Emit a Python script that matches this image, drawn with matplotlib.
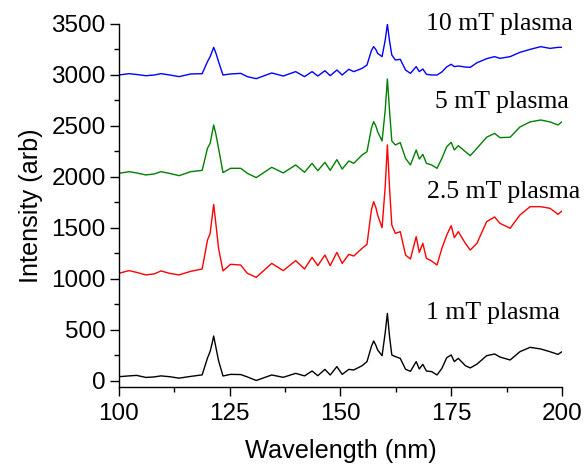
import matplotlib
matplotlib.use("Agg")
import matplotlib.pyplot as plt
from matplotlib.ticker import MultipleLocator

# Wavelength sample points (nm)
wavelength = [100, 102.3, 104, 106.1, 108, 109.5, 111.5, 113.6, 116.2, 118.8,
              120, 120.6, 121.0, 121.4, 121.9, 122.5, 123.5, 125.2, 127.5, 129,
              131, 134.5, 137.1, 139.9, 141.9, 143.6, 144.9, 146.5, 147.7, 149.2,
              150.4, 151.9, 153, 154.9, 156, 157.0, 157.5, 158.0, 158.4, 159.4,
              160.1, 160.6, 161.1, 161.6, 162.4, 163.5, 164.7, 165.8, 167.1, 167.8,
              168.6, 169.4, 170.6, 171.8, 172.9, 174, 175, 175.7, 176.6, 178.2,
              179.3, 180.8, 183, 184.8, 186, 188.3, 190.5, 192.8, 195.2, 197.3,
              199.1, 200]

# Spectra (arb. units, stacked with offsets)
int_1mT = [42, 50, 55, 35, 40, 50, 42, 28, 45, 60,
           225, 290, 360, 441, 330, 200, 49, 65, 63, 40,
           5, 59, 36, 75, 50, 98, 52, 114, 59, 141,
           65, 114, 108, 150, 190, 340, 392, 350, 304, 248,
           470, 663, 430, 255, 239, 222, 115, 95, 190, 118,
           163, 98, 92, 59, 124, 229, 255, 190, 222, 150,
           128, 165, 248, 265, 235, 206, 287, 330, 314, 287,
           261, 287]

int_2p5mT = [1056, 1082, 1065, 1040, 1050, 1079, 1055, 1040, 1075, 1098,
             1380, 1447, 1590, 1732, 1540, 1301, 1079, 1144, 1137, 1056,
             1016, 1153, 1082, 1180, 1098, 1212, 1131, 1235, 1131, 1261,
             1153, 1242, 1225, 1301, 1340, 1680, 1758, 1700, 1627, 1503,
             1900, 2314, 1880, 1529, 1447, 1464, 1235, 1196, 1415, 1261,
             1350, 1203, 1176, 1137, 1301, 1431, 1523, 1405, 1464, 1349,
             1284, 1349, 1562, 1608, 1546, 1497, 1627, 1709, 1709, 1693,
             1634, 1667]

int_5mT = [2036, 2052, 2040, 2020, 2030, 2052, 2035, 2013, 2052, 2065,
           2281, 2330, 2420, 2510, 2420, 2281, 2043, 2085, 2085, 2036,
           1994, 2095, 2040, 2118, 2046, 2134, 2062, 2144, 2065, 2170,
           2078, 2157, 2134, 2216, 2248, 2480, 2542, 2500, 2444, 2353,
           2650, 2961, 2640, 2353, 2314, 2337, 2183, 2118, 2265, 2176,
           2222, 2134, 2118, 2085, 2183, 2297, 2340, 2265, 2307, 2248,
           2209, 2281, 2390, 2428, 2386, 2390, 2490, 2540, 2559, 2540,
           2510, 2542]

int_10mT = [3000, 3013, 3005, 2993, 3000, 3013, 3000, 2984, 3010, 3013,
            3131, 3180, 3225, 3271, 3215, 3131, 3000, 3010, 3016, 2984,
            2964, 3020, 2990, 3033, 2984, 3033, 2990, 3042, 2993, 3049,
            3000, 3056, 3033, 3065, 3098, 3240, 3278, 3250, 3212, 3180,
            3340, 3497, 3330, 3196, 3147, 3154, 3049, 3016, 3082, 3033,
            3059, 3007, 3000, 3000, 3030, 3080, 3105, 3082, 3088, 3078,
            3075, 3120, 3160, 3180, 3163, 3180, 3222, 3251, 3278, 3261,
            3271, 3271]

series_labels = ["1 mT plasma", "2.5 mT plasma", "5 mT plasma", "10 mT plasma"]
x_ticks = [100, 125, 150, 175, 200]
y_ticks = [0, 500, 1000, 1500, 2000, 2500, 3000, 3500]

plt.rcParams['font.family'] = ['Liberation Sans', 'DejaVu Sans']

fig = plt.figure(figsize=(5.84, 4.66), dpi=100)
ax = fig.add_axes([0.2035, 0.1695, 0.7588, 0.779])

colors = ["black", "#ff0000", "#008000", "#0000ff"]
for ys, c in zip([int_1mT, int_2p5mT, int_5mT, int_10mT], colors):
    ax.plot(wavelength, ys, color=c, lw=1.0)

ax.set_xlim(100, 200)
ax.set_ylim(-59, 3500)
ax.set_xticks(x_ticks)
ax.set_yticks(y_ticks)
ax.xaxis.set_minor_locator(MultipleLocator(12.5))
ax.yaxis.set_minor_locator(MultipleLocator(250))
ax.tick_params(which='major', direction='out', length=6.5, width=1,
               labelsize=17.5, colors='black')
ax.tick_params(axis='y', which='major', pad=3)
ax.tick_params(axis='x', which='major', pad=5)
ax.tick_params(which='minor', direction='out', length=3.5, width=1)

for side in ['top', 'right']:
    ax.spines[side].set_visible(False)
for side in ['left', 'bottom']:
    ax.spines[side].set_linewidth(1.0)

ax.set_xlabel("Wavelength (nm)", fontsize=18.2, labelpad=10)
ax.set_ylabel("Intensity (arb)", fontsize=18.2, labelpad=6)

# Series annotations
label_x = [199.5, 204.1, 201.6, 202.5]
label_y = [608, 1794, 2676, 3441]
for txt, lx, ly in zip(series_labels, label_x, label_y):
    ax.text(lx, ly, txt, ha='right', va='baseline', fontsize=18.5,
            family='Liberation Serif', clip_on=False)

fig.savefig("out.png", dpi=100)
